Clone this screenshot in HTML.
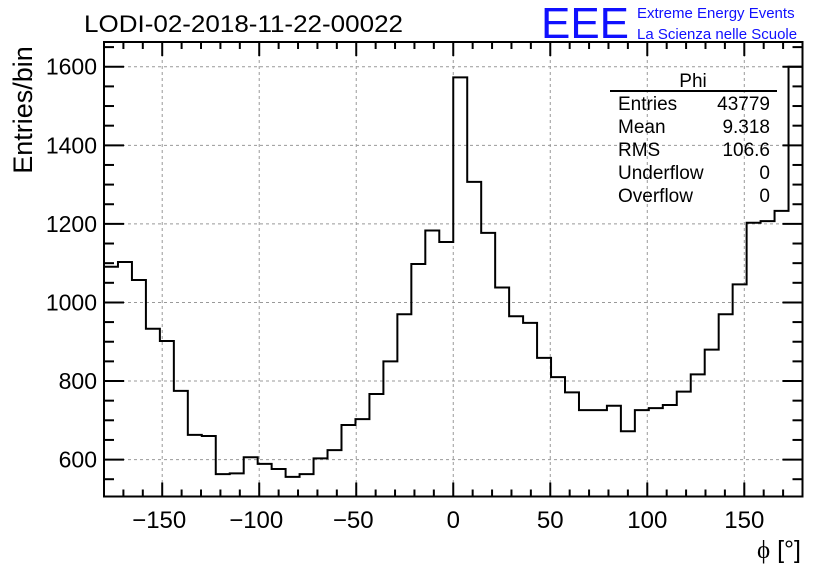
<!DOCTYPE html>
<html><head><meta charset="utf-8"><style>
body{margin:0;background:#fff;}
svg{display:block;font-family:"Liberation Sans",sans-serif;}
</style></head><body>
<svg id="c" width="836" height="572" viewBox="0 0 836 572">
<text x="84" y="32" font-size="24" textLength="319" lengthAdjust="spacingAndGlyphs">LODI-02-2018-11-22-00022</text>
<text x="541" y="38" font-size="44" fill="#1010ff" textLength="88" lengthAdjust="spacingAndGlyphs">EEE</text>
<text x="637" y="18" font-size="15" fill="#1010ff">Extreme Energy Events</text>
<text x="637" y="39" font-size="15" fill="#1010ff">La Scienza nelle Scuole</text>
<g id="grid"></g>
<g id="hist"></g>
<g id="axes"></g>
<g font-size="19">
<text x="693" y="87" text-anchor="middle">Phi</text>
<line x1="610" y1="91" x2="777" y2="91" stroke="#000" stroke-width="2"/>
<text x="618" y="110">Entries</text><text x="770" y="110" text-anchor="end">43779</text>
<text x="618" y="133">Mean</text><text x="770" y="133" text-anchor="end">9.318</text>
<text x="618" y="156">RMS</text><text x="770" y="156" text-anchor="end">106.6</text>
<text x="618" y="179">Underflow</text><text x="770" y="179" text-anchor="end">0</text>
<text x="618" y="202">Overflow</text><text x="770" y="202" text-anchor="end">0</text>
</g>
<text transform="translate(32,110) rotate(-90)" text-anchor="middle" font-size="27">Entries/bin</text>
<text x="801" y="558" text-anchor="end" font-size="25"><tspan font-family="'Liberation Serif',serif">ϕ</tspan> [°]</text>
</svg>
<script>
const binEdgesStart = -180;
const binWidth = 7.2;
const counts = [1091,1103,1057,933,902,775,663,660,563,565,606,589,576,556,563,603,624,688,703,767,850,970,1098,1183,1154,
1573,1307,1177,1038,965,948,859,810,771,726,726,737,672,726,731,739,773,817,880,970,1046,1203,1207,1233,1600];
const yTicks = [600,800,1000,1200,1400,1600];
const xTicks = [-150,-100,-50,0,50,100,150];
const X0=104,X1=802.5,Y0=496.5,Y1=42,xmin=-180,xmax=180,ymin=506,ymax=1663;
const sx=v=>X0+(v-xmin)/(xmax-xmin)*(X1-X0);
const sy=v=>Y0-(v-ymin)/(ymax-ymin)*(Y0-Y1);
const NS="http://www.w3.org/2000/svg";
function mk(t,a,p){const e=document.createElementNS(NS,t);for(const k in a)e.setAttribute(k,a[k]);p.appendChild(e);return e;}
const grid=document.getElementById('grid'),axes=document.getElementById('axes'),hist=document.getElementById('hist');
xTicks.forEach(v=>{const l=mk('line',{x1:sx(v),x2:sx(v),y1:Y1,y2:Y0,stroke:'#999','stroke-dasharray':'3,3'},grid);

});
yTicks.forEach(v=>{const l=mk('line',{x1:X0,x2:X1,y1:sy(v),y2:sy(v),stroke:'#999','stroke-dasharray':'3,3'},grid);

});
let d='M'+X0+','+Y0;
counts.forEach((c,i)=>{const a=sx(binEdgesStart+i*binWidth),b=sx(binEdgesStart+(i+1)*binWidth);d+=' L'+a+','+sy(c)+' L'+b+','+sy(c);});
d+=' L'+X1+','+Y0;
const p=mk('path',{d:d,fill:'none',stroke:'#000','stroke-width':2},hist);


const fr=mk('rect',{x:X0,y:Y1,width:X1-X0,height:Y0-Y1,fill:'none',stroke:'#000','stroke-width':2},axes);


for(let v=-170;v<=170;v+=10){const big=v%50===0;const h=big?14:7;
mk('line',{x1:sx(v),x2:sx(v),y1:Y0,y2:Y0-h,stroke:'#000','stroke-width':2},axes);
mk('line',{x1:sx(v),x2:sx(v),y1:Y1,y2:Y1+h,stroke:'#000','stroke-width':2},axes);}
for(let v=550;v<=1650;v+=50){const big=v%200===0;const h=big?20:10;
mk('line',{x1:X0,x2:X0+h,y1:sy(v),y2:sy(v),stroke:'#000','stroke-width':2},axes);
mk('line',{x1:X1,x2:X1-h,y1:sy(v),y2:sy(v),stroke:'#000','stroke-width':2},axes);}
xTicks.forEach(v=>{const t=mk('text',{x:sx(v)-(v<0?3:0),y:528,'text-anchor':'middle','font-size':24},axes);t.textContent=v<0?'\u2212'+(-v):v;

});
yTicks.forEach(v=>{const t=mk('text',{x:97,y:sy(v)+8,'text-anchor':'end','font-size':23},axes);t.textContent=v;

});
</script>
</body></html>
